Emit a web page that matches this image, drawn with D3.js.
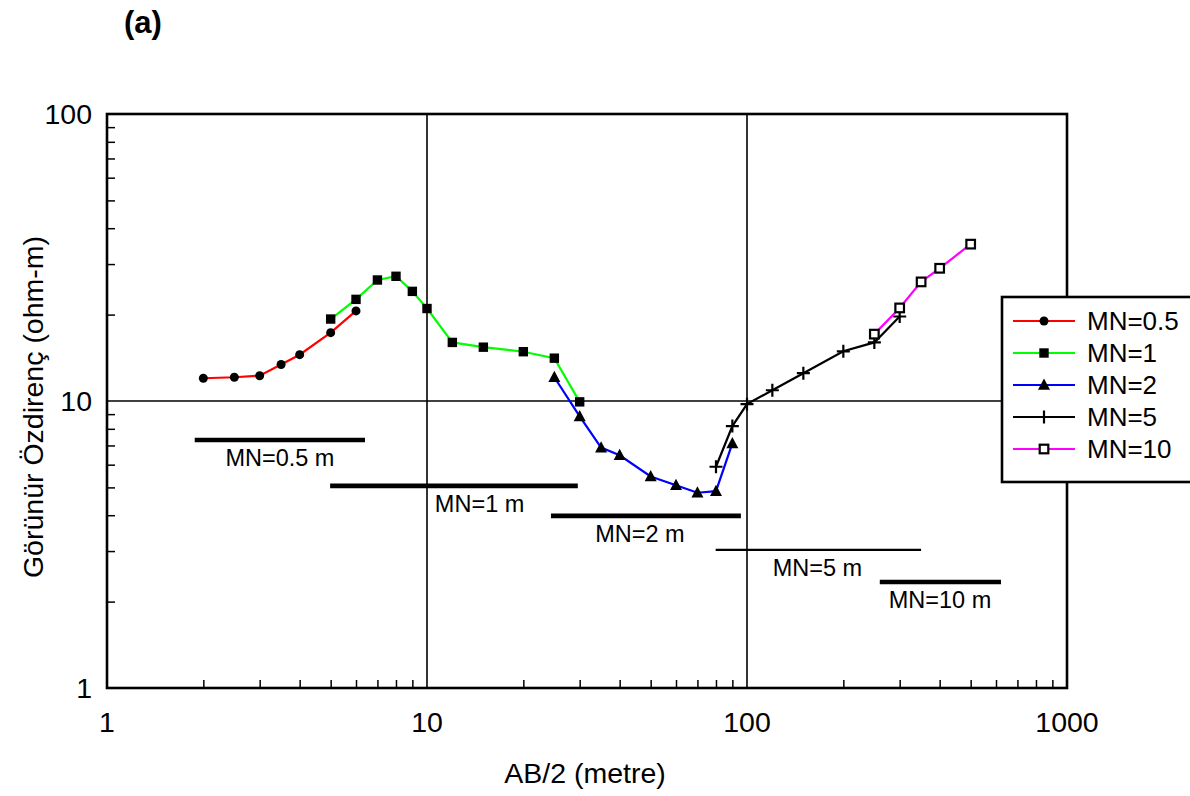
<!DOCTYPE html>
<html>
<head>
<meta charset="utf-8">
<script src="https://cdn.jsdelivr.net/npm/d3@7"></script>
<style>
  html, body { margin: 0; padding: 0; background: #fff; }
  svg { display: block; font-family: "Liberation Sans", Arial, sans-serif; }
</style>
</head>
<body>
<svg id="chart" width="1190" height="796"></svg>
<script>
// Schlumberger sounding curves, apparent resistivity vs AB/2, one segment per MN spacing
const ab_mn05 = [2, 2.5, 3, 3.5, 4, 5, 6];
const rho_mn05 = [12.0, 12.1, 12.25, 13.4, 14.5, 17.3, 20.6];

const ab_mn1 = [5, 6, 7, 8, 9, 10, 12, 15, 20, 25, 30];
const rho_mn1 = [19.3, 22.6, 26.4, 27.2, 24.1, 21.0, 16.0, 15.4, 14.85, 14.1, 9.93];

const ab_mn2 = [25, 30, 35, 40, 50, 60, 70, 80, 90];
const rho_mn2 = [12.1, 8.84, 6.88, 6.47, 5.46, 5.09, 4.79, 4.85, 7.12];

const ab_mn5 = [80, 90, 100, 120, 150, 200, 250, 300];
const rho_mn5 = [5.9, 8.18, 9.75, 10.9, 12.5, 14.9, 16.0, 19.7];

const ab_mn10 = [250, 300, 350, 400, 500];
const rho_mn10 = [17.1, 21.1, 26.0, 29.0, 35.2];

const seriesNames = ["MN=0.5", "MN=1", "MN=2", "MN=5", "MN=10"];
const seriesColors = ["#ff0000", "#00ff00", "#0000ff", "#000000", "#ff00ff"];
const seriesMarkers = ["circle", "square", "triangle", "plus", "openSquare"];

// AB/2 coverage of each MN spacing (horizontal bars under the curves)
const rangeLabels = ["MN=0.5 m", "MN=1 m", "MN=2 m", "MN=5 m", "MN=10 m"];
const rangeStart = [1.88, 4.98, 24.4, 79.8, 260];
const rangeEnd = [6.4, 29.6, 95.7, 350, 622];
const rangeLevel = [7.31, 5.06, 3.98, 3.03, 2.34];
const rangeLabelAt = [3.47, 14.6, 46.3, 166, 401];

const xTickLabels = [1, 10, 100, 1000];
const yTickLabels = [1, 10, 100];

const svg = d3.select("#chart");
const L = 107, R = 1067, T = 114, B = 688;

const x = d3.scaleLog().domain([1, 1000]).range([L, R]);
const y = d3.scaleLog().domain([1, 100]).range([B, T]);

const minorX = [];
for (let k = 1; k <= 100; k *= 10) for (let m = 2; m <= 9; m++) minorX.push(m * k);
const minorY = [];
for (let k = 1; k <= 10; k *= 10) for (let m = 2; m <= 9; m++) minorY.push(m * k);

// gridlines at the inner decades
svg.append("g").selectAll("line.vx").data([10, 100]).join("line")
  .attr("x1", d => x(d)).attr("x2", d => x(d))
  .attr("y1", T).attr("y2", B)
  .attr("stroke", "#000").attr("stroke-width", 1.6);
svg.append("g").selectAll("line.hy").data([10]).join("line")
  .attr("x1", L).attr("x2", R)
  .attr("y1", d => y(d)).attr("y2", d => y(d))
  .attr("stroke", "#000").attr("stroke-width", 1.6);

// inward minor ticks on bottom and left
svg.append("g")
  .attr("transform", `translate(0,${B})`)
  .call(d3.axisBottom(x).tickValues(minorX).tickSize(-8).tickFormat(""))
  .call(g => g.select(".domain").remove())
  .call(g => g.selectAll("line").attr("stroke-width", 1.5));
svg.append("g")
  .attr("transform", `translate(${L},0)`)
  .call(d3.axisLeft(y).tickValues(minorY).tickSize(-8).tickFormat(""))
  .call(g => g.select(".domain").remove())
  .call(g => g.selectAll("line").attr("stroke-width", 1.5));

// plot frame
svg.append("rect")
  .attr("x", L).attr("y", T).attr("width", R - L).attr("height", B - T)
  .attr("fill", "none").attr("stroke", "#000").attr("stroke-width", 2.6);

// tick labels
svg.append("g").selectAll("text").data(xTickLabels).join("text")
  .attr("x", d => x(d)).attr("y", 732)
  .attr("text-anchor", "middle").attr("font-size", 28.5)
  .text(d => d);
svg.append("g").selectAll("text").data(yTickLabels).join("text")
  .attr("x", 92).attr("y", d => y(d) + 10)
  .attr("text-anchor", "end").attr("font-size", 28.5)
  .text(d => d);

// axis titles
svg.append("text")
  .attr("x", (L + R) / 2 - 2).attr("y", 783)
  .attr("text-anchor", "middle").attr("font-size", 28.5)
  .text("AB/2 (metre)");
svg.append("text")
  .attr("transform", `translate(43,${(T + B) / 2 + 6}) rotate(-90)`)
  .attr("text-anchor", "middle").attr("font-size", 28.5)
  .text("Görünür Özdirenç (ohm-m)");

svg.append("text")
  .attr("x", 124).attr("y", 33)
  .attr("font-size", 31).attr("font-weight", "bold")
  .text("(a)");

// MN coverage bars and their labels
const rg = svg.append("g");
rangeLabels.forEach((lab, i) => {
  rg.append("line")
    .attr("x1", x(rangeStart[i])).attr("x2", x(rangeEnd[i]))
    .attr("y1", y(rangeLevel[i])).attr("y2", y(rangeLevel[i]))
    .attr("stroke", "#000").attr("stroke-width", i === 3 ? 2.2 : 4.6);
  rg.append("text")
    .attr("x", x(rangeLabelAt[i])).attr("y", y(rangeLevel[i]) + 26)
    .attr("text-anchor", "middle").attr("font-size", 23.5)
    .text(lab);
});

// marker shapes
function drawMarker(g, kind, cx, cy) {
  if (kind === "circle") {
    g.append("circle").attr("cx", cx).attr("cy", cy).attr("r", 4.5).attr("fill", "#000");
  } else if (kind === "square") {
    g.append("rect").attr("x", cx - 4.7).attr("y", cy - 4.7).attr("width", 9.4).attr("height", 9.4).attr("fill", "#000");
  } else if (kind === "triangle") {
    g.append("path").attr("d", `M${cx},${cy - 6.4} L${cx + 6},${cy + 4.8} L${cx - 6},${cy + 4.8} Z`).attr("fill", "#000");
  } else if (kind === "plus") {
    g.append("path").attr("d", `M${cx - 6.5},${cy} H${cx + 6.5} M${cx},${cy - 6.5} V${cy + 6.5}`)
      .attr("stroke", "#000").attr("stroke-width", 2.2).attr("fill", "none");
  } else if (kind === "openSquare") {
    g.append("rect").attr("x", cx - 4.3).attr("y", cy - 4.3).attr("width", 8.6).attr("height", 8.6)
      .attr("fill", "#fff").attr("stroke", "#000").attr("stroke-width", 2.2);
  }
}

const seriesData = [
  [ab_mn05, rho_mn05],
  [ab_mn1, rho_mn1],
  [ab_mn2, rho_mn2],
  [ab_mn5, rho_mn5],
  [ab_mn10, rho_mn10]
];

const line = d3.line().x(d => x(d[0])).y(d => y(d[1]));
seriesData.forEach(([xs, ys], i) => {
  const pts = xs.map((v, j) => [v, ys[j]]);
  const g = svg.append("g");
  g.append("path").datum(pts).attr("d", line)
    .attr("fill", "none").attr("stroke", seriesColors[i]).attr("stroke-width", 2.2);
  pts.forEach(p => drawMarker(g, seriesMarkers[i], x(p[0]), y(p[1])));
});

// legend
const lg = svg.append("g");
lg.append("rect").attr("x", 1002).attr("y", 297).attr("width", 200).attr("height", 185)
  .attr("fill", "#fff").attr("stroke", "#000").attr("stroke-width", 2.6);
seriesNames.forEach((name, i) => {
  const cy = 321 + i * 32;
  lg.append("line").attr("x1", 1013).attr("x2", 1075).attr("y1", cy).attr("y2", cy)
    .attr("stroke", seriesColors[i]).attr("stroke-width", 2.2);
  drawMarker(lg, seriesMarkers[i], 1044, cy);
  lg.append("text").attr("x", 1087).attr("y", cy + 9).attr("font-size", 26).text(name);
});
</script>
</body>
</html>
